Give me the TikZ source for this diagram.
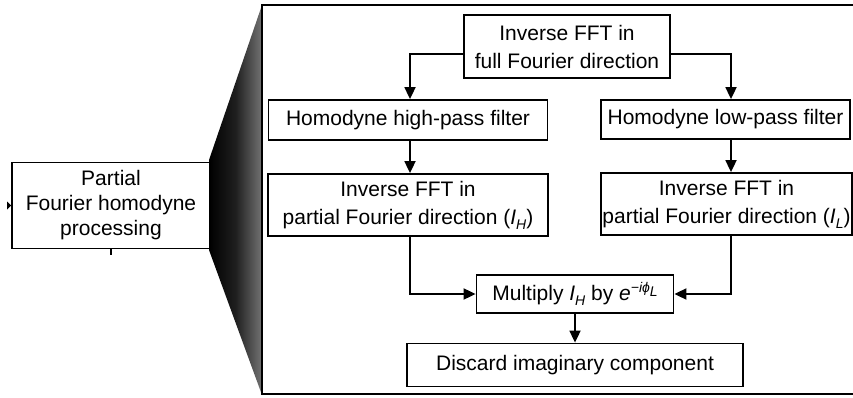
\documentclass[tikz,border=0pt]{standalone}
\usepackage{fontspec}
\setmainfont{Liberation Sans}
\usetikzlibrary{arrows.meta}
\newcommand{\subH}[1]{\raisebox{-5pt}{\fontsize{14}{14}\selectfont\itshape #1}}
\begin{document}
\begin{tikzpicture}[x=1pt,y=-1pt,
  box/.style={draw, line width=1.8pt, fill=white, align=center, inner sep=0pt,
    font=\fontsize{21}{28}\selectfont},
  arr/.style={line width=1.8pt, -{Triangle[length=12pt,width=11pt]}},
  ln/.style={line width=1.8pt}]
\useasboundingbox (0,0) rectangle (853,398);
\begin{scope}
\clip (0,0) rectangle (853,398);
% shaded zoom wedge
\shade[left color=black, right color=black!55, middle color=black!88]
  (209,160) -- (262,5) -- (262,395) -- (209,250) -- cycle;
% big frame (extends past right edge)
\draw[line width=2pt, fill=white] (262,5) rectangle (900,394);
\end{scope}
% small box
\node[box, minimum width=198pt, minimum height=86pt, font=\fontsize{21}{25}\selectfont] (pf) at (111,205.5)
  {Partial\\Fourier homodyne\\processing};
\draw[ln] (pf.south) -- ++(0,6) coordinate (tick);
\fill (pf.west) ++(-4,-4) -- ++(4,4) -- ++(-4,4) -- cycle;
% main flow
\node[box, minimum width=206pt, minimum height=63pt] (top) at (567,46.5)
  {Inverse FFT in\\full Fourier direction};
\node[box, minimum width=279pt, minimum height=40pt] (hp) at (408,120)
  {Homodyne high-pass filter};
\node[box, minimum width=249pt, minimum height=39pt] (lp) at (725.5,119.5)
  {Homodyne low-pass filter};
\node[box, minimum width=280pt, minimum height=62pt] (ih) at (408,205)
  {Inverse FFT in\\partial Fourier direction (\textit{I}\subH{H})};
\node[box, minimum width=251pt, minimum height=62pt] (il) at (726.5,204)
  {Inverse FFT in\\partial Fourier direction (\textit{I}\subH{L})};
\node[box, minimum width=197pt, minimum height=38pt] (mul) at (575,294)
  {Multiply \textit{I}\subH{H} by \textit{e}\raisebox{8pt}{\fontsize{14}{14}\selectfont\itshape −iϕ\raisebox{-4pt}{L}}};
\node[box, minimum width=336pt, minimum height=43pt] (dis) at (575,365)
  {Discard imaginary component};
% connectors
\coordinate (c1) at (410,54);
\coordinate (c2) at (731,54);
\draw[arr] (top.west |- c1) -- (c1) -- (c1 |- hp.north);
\draw[arr] (top.east |- c2) -- (c2) -- (c2 |- lp.north);
\draw[arr] (hp.south -| c1) -- (c1 |- ih.north);
\draw[arr] (lp.south -| c2) -- (c2 |- il.north);
\coordinate (j1) at (410,294);
\coordinate (j2) at (731,294);
\draw[arr] (ih.south -| j1) -- (j1) -- (mul.west);
\draw[arr] (il.south -| j2) -- (j2) -- (mul.east);
\draw[arr] (mul.south) -- (dis.north);
\end{tikzpicture}
\end{document}
